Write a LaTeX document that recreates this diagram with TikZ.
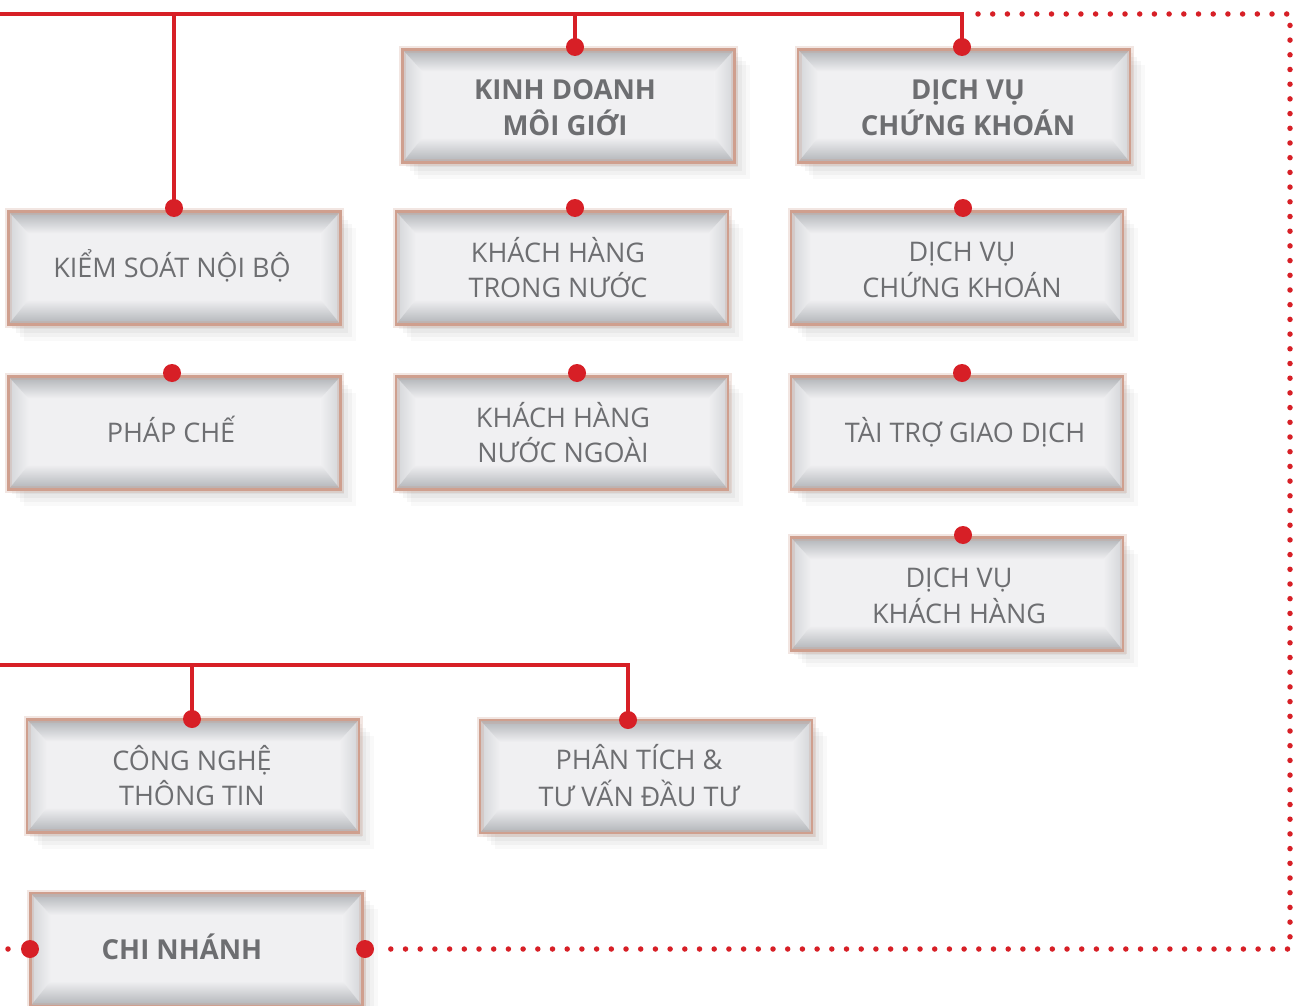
\documentclass[tikz,border=0pt]{standalone}
\usepackage{fontspec}
\setmainfont{Open Sans}
\usetikzlibrary{calc}
\definecolor{rd}{HTML}{D71F26}
\definecolor{txt}{HTML}{6D6E71}
\definecolor{mid}{HTML}{F0F0F2}
\definecolor{bev}{HTML}{B0B3B7}
\definecolor{bevside}{HTML}{D3D5D8}
\definecolor{rim}{HTML}{CF9F8E}
% text shifted right by #1 and down by half of #2 inside its box
\newcommand\shiftedlabel[3]{\makebox[0pt]{\hspace*{#1}\hspace*{#1}\raisebox{0pt}[\dimexpr\height+#2\relax]{\begin{tabular}{@{}c@{}}#3\end{tabular}}}}
\tikzset{
 btn/.style={rectangle, minimum width=332pt, minimum height=113pt, inner sep=0pt, outer sep=0pt,
  fill=mid, text=txt, align=center, font=\fontsize{27}{35}\selectfont,
  preaction={fill=black, opacity=0.04, transform canvas={xshift=3pt,yshift=-4pt}},
  preaction={fill=black, opacity=0.035, transform canvas={xshift=7pt,yshift=-8pt}},
  preaction={fill=black, opacity=0.03, transform canvas={xshift=11pt,yshift=-12pt}},
  preaction={fill=black, opacity=0.025, transform canvas={xshift=15pt,yshift=-16pt}},
  path picture={
   \coordinate (nw) at (path picture bounding box.north west);
   \coordinate (ne) at (path picture bounding box.north east);
   \coordinate (sw) at (path picture bounding box.south west);
   \coordinate (se) at (path picture bounding box.south east);
   \shade[left color=bevside, right color=mid] (nw) -- ($(nw)+(20,22)$) -- ($(sw)+(20,-25)$) -- (sw) -- cycle;
   \shade[left color=mid, right color=bevside] (ne) -- ($(ne)+(-20,22)$) -- ($(se)+(-20,-25)$) -- (se) -- cycle;
   \shade[top color=bev, bottom color=mid] (nw) -- (ne) -- ($(ne)+(-20,22)$) -- ($(nw)+(20,22)$) -- cycle;
   \shade[top color=mid, bottom color=bev] (sw) -- (se) -- ($(se)+(-20,-25)$) -- ($(sw)+(20,-25)$) -- cycle;
  },
  postaction={draw=rim, opacity=0.25, line width=7pt},
  postaction={draw=rim, line width=2.5pt}},
 btnb/.style={btn, font=\bfseries\fontsize{27.5}{35}\selectfont},
 dot/.style={circle, fill=rd, minimum size=18pt, inner sep=0pt},
 link/.style={draw=rd, line width=4pt},
 dots/.style={draw=rd, line width=5.5pt, line cap=round, dash pattern=on 0pt off 14.7pt}
}
\begin{document}
\begin{tikzpicture}[x=1pt,y=-1pt]
\useasboundingbox[fill=white] (0,0) rectangle (1293,1006);
% boxes
\node[btnb] (kd)  at (568.5,106) {\shiftedlabel{-3.5pt}{9pt}{KINH DOANH\\MÔI GIỚI}};
\node[btnb] (dvb) at (964,106) {\shiftedlabel{4pt}{9pt}{DỊCH VỤ\\CHỨNG KHOÁN}};
\node[btn]  (ks)  at (174.5,268) {\shiftedlabel{-2.5pt}{2pt}{KIỂM SOÁT NỘI BỘ}};
\node[btn]  (kht) at (562,268) {\shiftedlabel{-4pt}{9pt}{KHÁCH HÀNG\\TRONG NƯỚC}};
\node[btn]  (dvc) at (957,268) {\shiftedlabel{5pt}{9pt}{DỊCH VỤ\\CHỨNG KHOÁN}};
\node[btn]  (pc)  at (174.5,433) {\shiftedlabel{-3.5pt}{4pt}{PHÁP CHẾ}};
\node[btn]  (khn) at (562,433) {\shiftedlabel{1pt}{9pt}{KHÁCH HÀNG\\NƯỚC NGOÀI}};
\node[btn]  (tt)  at (957,433) {\shiftedlabel{8pt}{4pt}{TÀI TRỢ GIAO DỊCH}};
\node[btn]  (dvk) at (957,594) {\shiftedlabel{2pt}{9pt}{DỊCH VỤ\\KHÁCH HÀNG}};
\node[btn]  (cn)  at (193,776) {\shiftedlabel{-1pt}{9pt}{CÔNG NGHỆ\\THÔNG TIN}};
\node[btn]  (pt)  at (646,776.5) {\shiftedlabel{-7pt}{9pt}{PHÂN TÍCH \&\\TƯ VẤN ĐẦU TƯ}};
\node[btnb] (chi) at (196.5,949.5) {\shiftedlabel{-14.5pt}{4pt}{CHI NHÁNH}};
% dots
\node[dot] (dkd)  at (575,47) {};
\node[dot] (ddvb) at (962,47) {};
\node[dot] (dks)  at (174,208) {};
\node[dot] (dkht) at (575,208) {};
\node[dot] (ddvc) at (963,208) {};
\node[dot] (dpc)  at (172,373) {};
\node[dot] (dkhn) at (577,373) {};
\node[dot] (dtt)  at (962,373) {};
\node[dot] (ddvk) at (963,535) {};
\node[dot] (dcn)  at (192,719) {};
\node[dot] (dpt)  at (628,720) {};
\node[dot] (dchl) at (30,949) {};
\node[dot] (dchr) at (365,949) {};
% connectors
\coordinate (topL) at (0,14);
\coordinate (midL) at (0,665);
\draw[link] (topL) -- (ddvb.center |- topL) -- (ddvb.center);
\draw[link] (dks.center |- topL) -- (dks.center);
\draw[link] (dkd.center |- topL) -- (dkd.center);
\draw[link] (midL) -- (dpt.center |- midL) -- (dpt.center);
\draw[link] (dcn.center |- midL) -- (dcn.center);
% dotted
\coordinate (dstart) at (978,14);
\coordinate (rc1) at (1290,14);
\coordinate (rc2) at (1290,949);
\coordinate (bend) at (390,949);
\coordinate (lend) at (6,949);
\draw[dots] (dstart) -- (rc1) -- (rc2) -- (bend);
\draw[dots, dash pattern=on 0pt off 22pt] (dchl.center) -- (lend);
\end{tikzpicture}
\end{document}
